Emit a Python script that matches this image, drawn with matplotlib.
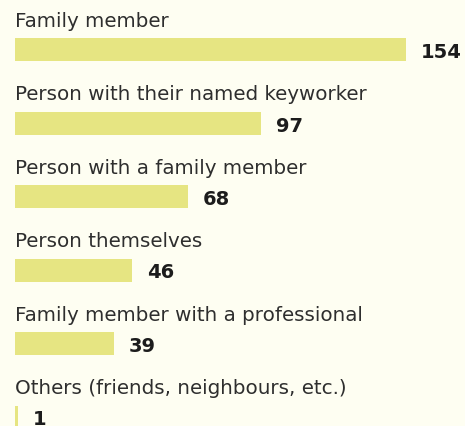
import matplotlib.pyplot as plt

labels = [
    'Family member',
    'Person with their named keyworker',
    'Person with a family member',
    'Person themselves',
    'Family member with a professional',
    'Others (friends, neighbours, etc.)',
]
counts = [154, 97, 68, 46, 39, 1]

bg = '#fefef2'
bar_col = '#e6e582'

W, H = 465, 427
fig = plt.figure(figsize=(W / 100, H / 100), dpi=100, facecolor=bg)
ax = fig.add_axes([0, 0, 1, 1])
ax.set_facecolor(bg)

# pixel scale: bar origin at x=15px, largest bar ends at 406px
ppu = (406 - 15) / max(counts)
ax.set_xlim(-15 / ppu, (W - 15) / ppu)
# rows are 73.5px apart, first row centred at 50.5px
row = 73.5
ax.set_ylim((H - 50.5) / row, -50.5 / row)

rows = list(range(len(counts)))
ax.barh(rows, counts, height=23 / row, color=bar_col, align='center')

for i, (lab, v) in enumerate(zip(labels, counts)):
    ax.annotate(lab, (0, i), xytext=(0, 11.5 + 12), textcoords='offset pixels',
                ha='left', va='baseline', fontsize=14.3, color='#2e2e2e')
    ax.annotate(str(v), (v, i), xytext=(15, 0), textcoords='offset pixels',
                ha='left', va='center_baseline', fontsize=14, fontweight='bold',
                color='#1c1c1c')

ax.axis('off')
fig.savefig('out.png', dpi=100, facecolor=bg)
